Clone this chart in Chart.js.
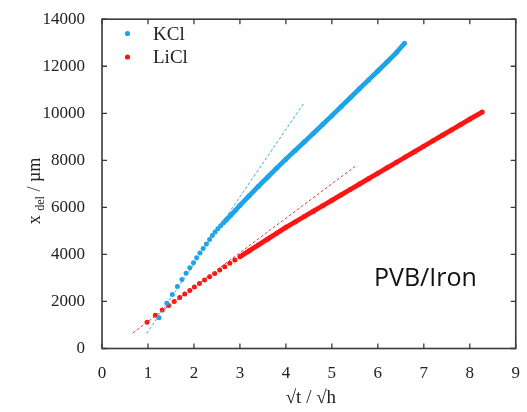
<!DOCTYPE html>
<html>
<head>
<meta charset="utf-8">
<script src="https://cdn.jsdelivr.net/npm/chart.js@4"></script>
<style>
  body { margin: 0; background: #fff; }
</style>
</head>
<body>
<canvas id="delamChart" width="527" height="412"></canvas>
<script>
// KCl (blue)
const kclX = [1.24, 1.41, 1.53, 1.64, 1.74, 1.83, 1.91, 1.99, 2.06, 2.13, 2.20, 2.27, 2.34, 2.40, 2.46, 2.52, 2.58, 2.64,
  2.70, 2.80, 2.90, 3.00, 3.20, 3.40, 3.60, 3.80, 4.00, 4.20, 4.40, 4.60, 4.80, 5.00, 5.20, 5.40, 5.60, 5.80, 6.00, 6.20, 6.40, 6.58];
const kclY = [1310, 1920, 2300, 2640, 2930, 3200, 3430, 3650, 3860, 4060, 4250, 4440, 4630, 4800, 4950, 5090, 5220, 5340,
  5460, 5660, 5870, 6080, 6490, 6890, 7280, 7670, 8050, 8420, 8780, 9150, 9520, 9900, 10280, 10660, 11040, 11420, 11800, 12180, 12570, 12980];

// LiCl (red)
const liclX = [0.98, 1.16, 1.31, 1.45, 1.57, 1.69, 1.80, 1.91, 2.01, 2.12, 2.23, 2.34, 2.45, 2.56, 2.67, 2.78, 2.89, 3.00,
  3.20, 3.40, 3.60, 3.80, 4.00, 4.20, 4.40, 4.60, 4.80, 5.00, 5.20, 5.40, 5.60, 5.80, 6.00, 6.20, 6.40, 6.60, 6.80, 7.00,
  7.20, 7.40, 7.60, 7.80, 8.00, 8.27];
const liclY = [1120, 1410, 1640, 1830, 2000, 2170, 2320, 2470, 2610, 2760, 2910, 3050, 3190, 3340, 3480, 3620, 3760, 3900,
  4150, 4400, 4650, 4900, 5150, 5380, 5610, 5840, 6070, 6300, 6530, 6760, 6990, 7220, 7450, 7680, 7910, 8140, 8370, 8600,
  8830, 9060, 9290, 9520, 9750, 10050];

// dashed fit lines (start / end)
const kclFitX = [0.97, 4.38];
const kclFitY = [636, 10397];
const liclFitX = [0.67, 5.54];
const liclFitY = [661, 7791];

const seriesNames = ['KCl', 'LiCl'];
const kclColor = '#1ea3ea';
const liclColor = '#ff1414';

// where the dots merge into a solid band
const kclBandFrom = 2.6;
const liclBandFrom = 2.95;

const toPts = (xs, ys) => xs.map((x, i) => ({ x: x, y: ys[i] }));
const serif = "'Liberation Serif', 'Times New Roman', serif";

const framePlugin = {
  id: 'frame',
  afterDatasetsDraw(chart) {
    const { ctx, chartArea: a, scales } = chart;
    ctx.save();
    // box + inward ticks on all four sides
    ctx.strokeStyle = '#3a3a3a';
    ctx.lineWidth = 1.6;
    ctx.strokeRect(a.left, a.top, a.right - a.left, a.bottom - a.top);
    ctx.lineWidth = 1.3;
    ctx.beginPath();
    scales.x.ticks.forEach(t => {
      const px = scales.x.getPixelForValue(t.value);
      ctx.moveTo(px, a.bottom); ctx.lineTo(px, a.bottom - 5);
      ctx.moveTo(px, a.top); ctx.lineTo(px, a.top + 5);
    });
    scales.y.ticks.forEach(t => {
      const py = scales.y.getPixelForValue(t.value);
      ctx.moveTo(a.left, py); ctx.lineTo(a.left + 5, py);
      ctx.moveTo(a.right, py); ctx.lineTo(a.right - 5, py);
    });
    ctx.stroke();

    // legend
    const colors = [kclColor, liclColor];
    ctx.font = '19px ' + serif;
    ctx.textBaseline = 'alphabetic';
    ctx.textAlign = 'left';
    seriesNames.forEach((name, i) => {
      const cy = 33.5 + i * 23.5;
      ctx.fillStyle = colors[i];
      ctx.beginPath();
      ctx.arc(a.left + 25.5, cy, 2.6, 0, Math.PI * 2);
      ctx.fill();
      ctx.fillStyle = '#222';
      ctx.fillText(name, a.left + 51, cy + 6);
    });

    // x title
    ctx.fillStyle = '#222';
    ctx.font = '19px ' + serif;
    ctx.textAlign = 'center';
    ctx.fillText('\u221At / \u221Ah', (a.left + a.right) / 2 + 2, 403);

    // y title with subscript
    ctx.save();
    ctx.translate(40, 191);
    ctx.rotate(-Math.PI / 2);
    ctx.textAlign = 'left';
    const big = '18px ' + serif, small = '12px ' + serif;
    ctx.font = big;
    const w1 = ctx.measureText('x ').width;
    const w3 = ctx.measureText(' / \u00B5m').width;
    ctx.font = small;
    const w2 = ctx.measureText('del').width;
    let x0 = -(w1 + w2 + w3) / 2;
    ctx.font = big; ctx.fillText('x ', x0, 0); x0 += w1;
    ctx.font = small; ctx.fillText('del', x0, 4); x0 += w2;
    ctx.font = big; ctx.fillText(' / \u00B5m', x0, 0);
    ctx.restore();

    // annotation
    ctx.font = "25px 'Open Sans', 'Noto Sans', sans-serif";
    ctx.textAlign = 'left';
    ctx.fillStyle = '#111';
    ctx.fillText('PVB/Iron', 374, 286);
    ctx.restore();
  }
};

new Chart(document.getElementById('delamChart').getContext('2d'), {
  type: 'scatter',
  data: {
    datasets: [
      {
        label: 'KCl fit',
        data: toPts(kclFitX, kclFitY),
        showLine: true,
        borderColor: '#3aaed8',
        borderWidth: 1,
        borderDash: [3, 2],
        pointRadius: 0
      },
      {
        label: 'LiCl fit',
        data: toPts(liclFitX, liclFitY),
        showLine: true,
        borderColor: '#ee3a3a',
        borderWidth: 1,
        borderDash: [3, 2],
        pointRadius: 0
      },
      {
        label: seriesNames[0],
        data: toPts(kclX, kclY),
        showLine: true,
        borderWidth: 4.8,
        borderColor: kclColor,
        segment: {
          borderColor: c => c.p0.parsed.x >= kclBandFrom ? kclColor : 'rgba(0,0,0,0)'
        },
        backgroundColor: kclColor,
        pointRadius: 2.5,
        pointBorderWidth: 0
      },
      {
        label: seriesNames[1],
        data: toPts(liclX, liclY),
        showLine: true,
        borderWidth: 4.8,
        borderColor: liclColor,
        segment: {
          borderColor: c => c.p0.parsed.x >= liclBandFrom ? liclColor : 'rgba(0,0,0,0)'
        },
        backgroundColor: liclColor,
        pointRadius: 2.5,
        pointBorderWidth: 0
      }
    ]
  },
  options: {
    responsive: false,
    animation: false,
    layout: { padding: { left: 0, right: 9.5, top: 14, bottom: 0 } },
    plugins: {
      legend: { display: false },
      tooltip: { enabled: false }
    },
    scales: {
      x: {
        type: 'linear',
        min: 0,
        max: 9,
        grid: { display: false },
        border: { display: false },
        ticks: { stepSize: 1, padding: 7, color: '#222', font: { family: serif, size: 17 } },
        afterFit: s => { s.height = 63.5; }
      },
      y: {
        min: 0,
        max: 14000,
        grid: { display: false },
        border: { display: false },
        ticks: {
          stepSize: 2000, padding: 9, color: '#222', font: { family: serif, size: 17 },
          callback: v => String(v)
        },
        afterFit: s => { s.width = 102; }
      }
    }
  },
  plugins: [framePlugin]
});
</script>
</body>
</html>
